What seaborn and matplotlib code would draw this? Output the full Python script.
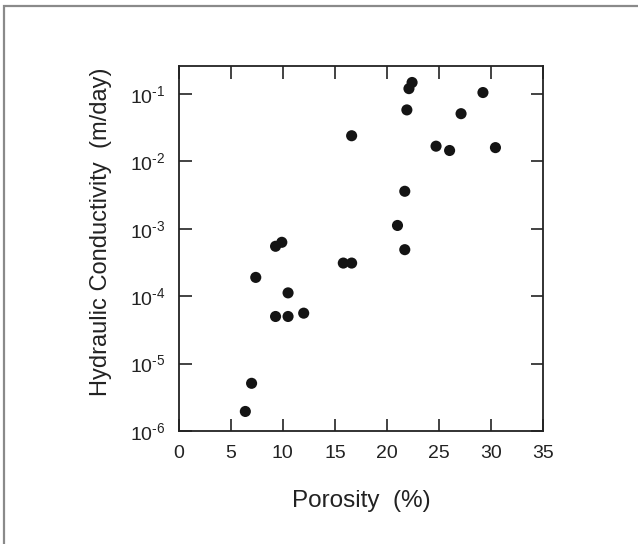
import matplotlib
matplotlib.use("Agg")
import matplotlib.pyplot as plt
from matplotlib.patches import Rectangle
from matplotlib.ticker import LogLocator, FuncFormatter, NullLocator
import numpy as np
import seaborn as sns
import pandas as pd

# Porosity (%) and hydraulic conductivity (m/day) of the samples
porosity = [6.4, 7.0, 7.4, 9.3, 9.9, 10.5, 9.3, 10.5, 12.0, 15.8, 16.6, 16.6,
            21.0, 21.7, 21.7, 21.9, 22.1, 22.4, 24.7, 26.0, 27.1, 29.2, 30.4]
conductivity = [1.95e-6, 5.1e-6, 1.9e-4, 5.5e-4, 6.3e-4, 1.12e-4, 5.0e-5, 5.0e-5,
                5.6e-5, 3.1e-4, 3.1e-4, 0.024, 1.12e-3, 4.9e-4, 3.6e-3, 0.058,
                0.12, 0.148, 0.0168, 0.0145, 0.051, 0.105, 0.016]

x_ticks = [0, 5, 10, 15, 20, 25, 30, 35]

df = pd.DataFrame({"porosity": porosity, "conductivity": conductivity})

sns.set_style("ticks")
plt.rcParams["font.family"] = ["Liberation Sans", "DejaVu Sans"]
plt.rcParams["mathtext.fontset"] = "custom"
plt.rcParams["mathtext.rm"] = "Liberation Sans"
plt.rcParams["mathtext.it"] = "Liberation Sans:italic"

fig = plt.figure(figsize=(6.38, 5.44), dpi=100)
ax = fig.add_axes([0.280, 0.2077, 0.5717, 0.671])

sns.scatterplot(data=df, x="porosity", y="conductivity", ax=ax,
                color="#141414", s=64, edgecolor="none", linewidth=0)

ax.set_yscale("log")
ax.set_xlim(0, 35)
ax.set_ylim(1e-6, 0.26)
ax.set_xticks(x_ticks)
ax.yaxis.set_major_locator(LogLocator(base=10, numticks=10))


def power_label(val, pos):
    exp = int(round(np.log10(val)))
    sign = r"\text{-}" if exp < 0 else ""
    return r"$\mathregular{10^{%s%d}}$" % (sign, abs(exp))


ax.yaxis.set_major_formatter(FuncFormatter(power_label))
ax.yaxis.set_minor_locator(NullLocator())

ax.tick_params(axis="both", which="major", direction="in", length=9, width=1.2,
               labelsize=14, colors="#222222", top=True, right=True,
               labeltop=False, labelright=False)
ax.tick_params(axis="x", pad=10)
ax.tick_params(axis="y", pad=9.5)
for side in ax.spines.values():
    side.set_visible(True)
    side.set_linewidth(1.3)
    side.set_color("#222222")

ax.set_xlabel("Porosity  (%)", fontsize=17.5, color="#222222", labelpad=20)
ax.set_ylabel("Hydraulic Conductivity  (m/day)", fontsize=17, color="#222222")
ax.yaxis.set_label_coords(-0.183, 0.5466)

# Outer panel frame
fig.patches.append(Rectangle((4 / 638, -0.1), 1.2, (544 - 6) / 544 + 0.1,
                             transform=fig.transFigure, fill=False,
                             edgecolor="#8a8a8a", linewidth=1.6))

fig.savefig("out.png", dpi=100)
